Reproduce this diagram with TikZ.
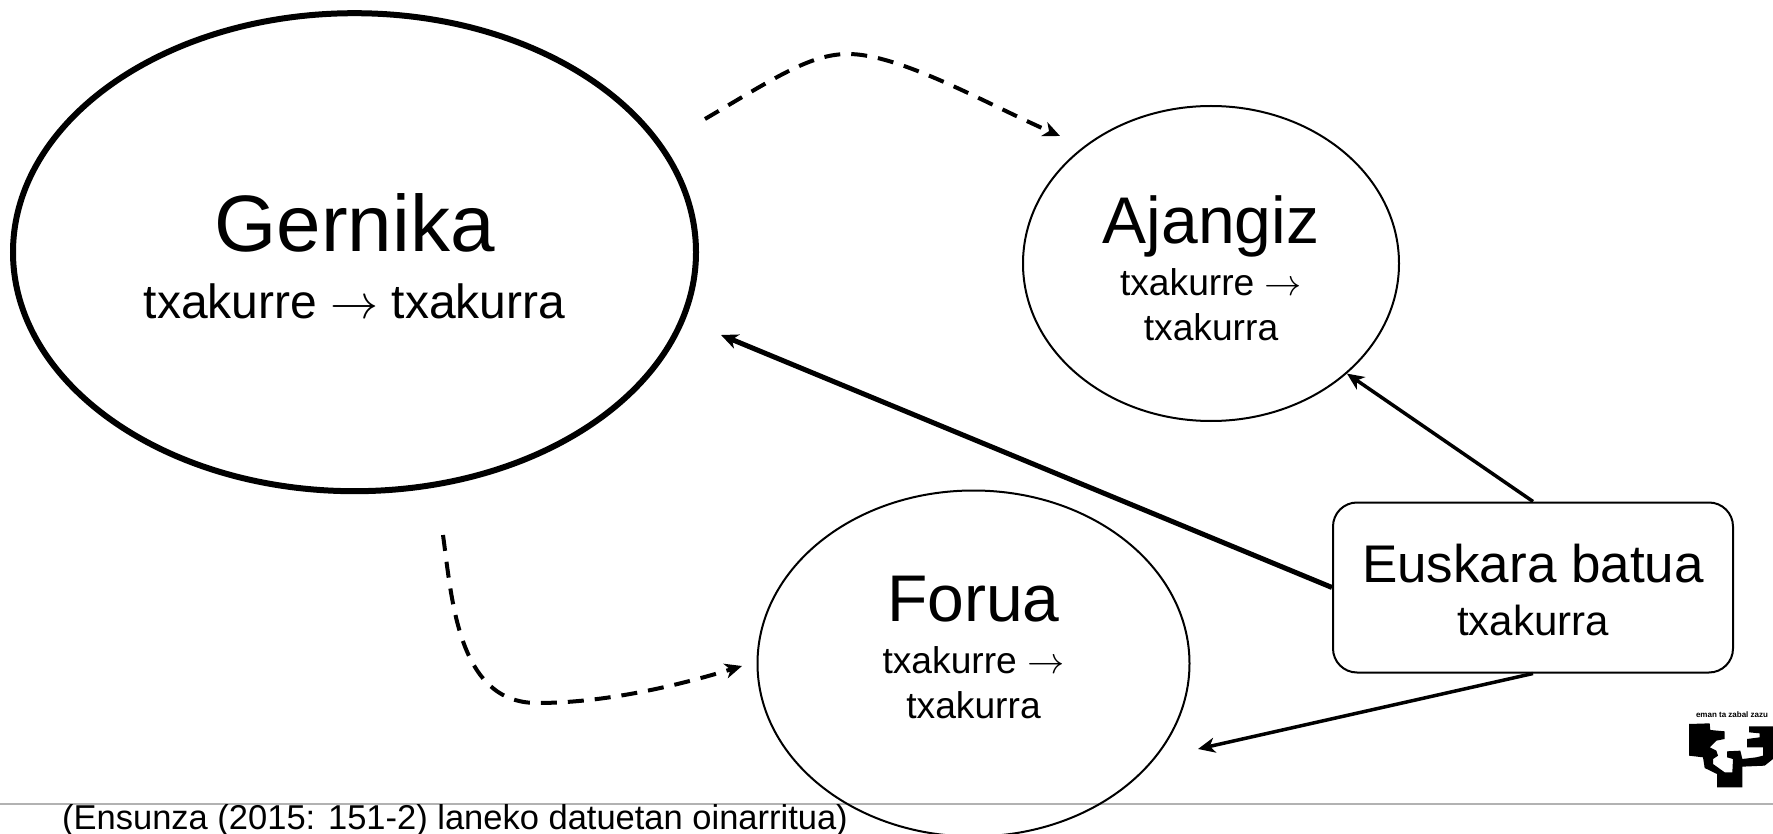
\documentclass[tikz,border=0pt]{standalone}
\usepackage{fontspec}
\setmainfont{Liberation Sans}
\usetikzlibrary{shapes.geometric,arrows.meta}
\newcommand{\fsz}[2]{\fontsize{#1}{#2}\selectfont}
\newcommand{\rarr}[1]{\scalebox{#1}{\fontsize{10}{12}\selectfont$\rightarrow$}}
\tikzset{
  x=1pt,y=-1pt,
  place/.style={ellipse,draw=black,fill=none,inner sep=0pt,align=center,line width=2pt},
  tip/.style={-{Stealth[length=17pt,width=15pt,inset=5pt]}},
  solidarrow/.style={tip,draw=black},
  dasharrow/.style={tip,draw=black,line width=4pt,dash pattern=on 16pt off 11pt},
}
\begin{document}
\begin{tikzpicture}
\useasboundingbox (0,0) rectangle (1773,834);
\fill[white] (0,0) rectangle (1773,834);
\draw[line width=1.5pt,draw=black!30] (0,804) -- (1773,804);
\node[place,line width=6pt,minimum width=683pt,minimum height=478pt,font=\fsz{48}{67}] (gernika) at (354.5,252.2)
  {{\fsz{80}{86}\rule{0pt}{66pt}Gernika}\\txakurre \rarr{4.8} txakurra};
\node[place,minimum width=376pt,minimum height=315pt,font=\fsz{37.2}{45}] (ajangiz) at (1211,263.5)
  {{\fsz{66}{72}\rule{0pt}{57pt}Ajangiz}\\[7pt]txakurre \rarr{3.72}\\txakurra};
\node[place,minimum width=432pt,minimum height=346pt,font=\fsz{37.2}{45}] (forua) at (973.5,663.5)
  {{\fsz{66}{72}Forua}\\[7pt]txakurre \rarr{3.72}\\txakurra\\[-12pt]};
\node[draw=black,line width=2pt,rounded corners=24pt,minimum width=400pt,minimum height=170pt,inner sep=0pt,align=center,font=\fsz{42}{53}] (batua) at (1533,587.5)
  {{\fsz{53}{60}\rule{0pt}{43.5pt}Euskara batua}\\txakurra};
\coordinate (gtip) at (721,335);
\coordinate (ftip) at (1198,749);
\coordinate (d1a) at (705,119);
\coordinate (d1m) at (848,54);
\coordinate (d1b) at (1060,136);
\coordinate (d2a) at (443,535);
\coordinate (d2m) at (537,703);
\coordinate (d2b) at (742,666);
\draw[solidarrow,line width=5pt] (batua.west) -- (gtip);
\draw[solidarrow,line width=3.5pt] (batua.north) -- (ajangiz.-39.8);
\draw[solidarrow,line width=3.5pt] (batua.south) -- (ftip);
\draw[dasharrow] (d1a) .. controls (775,78) and (810,54) .. (d1m) .. controls (900,54) and (985,103) .. (d1b);
\draw[dasharrow] (d2a) .. controls (452,600) and (458,703) .. (d2m) .. controls (600,703) and (670,688) .. (d2b);
\node[anchor=base west,inner sep=0pt,font=\fsz{34.5}{38}] (source) at (62,829) {(Ensunza (2015: 151-2) laneko datuetan oinarritua)};
\node[anchor=center,inner sep=0pt,font=\fsz{8}{9}\bfseries] (motto) at (1732,715) {eman ta zabal zazu};
\begin{scope}[shift={(1653,694)},x=0.3333pt,y=-0.3333pt]
\fill[black] (108,90) -- (170,88) -- (172,108) -- (215,112) -- (215,135) -- (190,140) -- (170,160) -- (190,170) -- (195,185) -- (180,195) -- (180,210) -- (215,235) -- (238,235) -- (240,195) -- (222,190) -- (222,172) -- (262,170) -- (268,195) -- (310,190) -- (330,185) -- (330,160) -- (282,160) -- (282,135) -- (320,130) -- (320,118) -- (288,115) -- (288,97) -- (360,97) -- (360,195) -- (335,215) -- (268,218) -- (268,280) -- (192,280) -- (192,240) -- (155,222) -- (150,190) -- (108,185) -- cycle;
\end{scope}
\end{tikzpicture}
\end{document}
